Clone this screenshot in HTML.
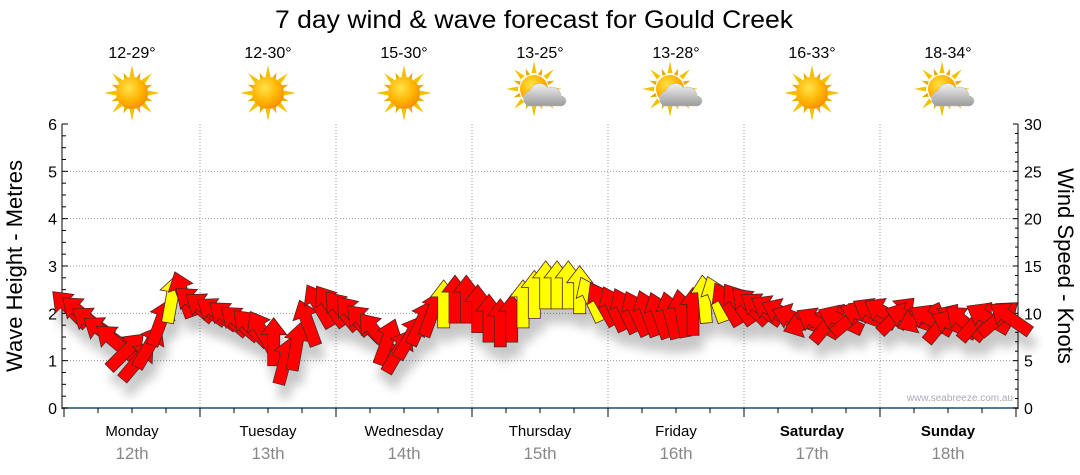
<!DOCTYPE html>
<html><head><meta charset="utf-8"><style>
body{margin:0;background:#fff}
svg{display:block;font-family:"Liberation Sans",sans-serif}
</style></head><body>
<svg id="chart" width="1080" height="475" viewBox="0 0 1080 475" xmlns="http://www.w3.org/2000/svg">
<defs>
<radialGradient id="sunG" cx="40%" cy="35%" r="70%"><stop offset="0" stop-color="#ffe24a"/><stop offset="0.6" stop-color="#ffb300"/><stop offset="1" stop-color="#f08a00"/></radialGradient>
<linearGradient id="cloudG" x1="0" y1="0" x2="0" y2="1"><stop offset="0" stop-color="#f2f2f2"/><stop offset="1" stop-color="#9a9a9a"/></linearGradient>
<filter id="shadow" x="-50%" y="-50%" width="200%" height="200%"><feGaussianBlur in="SourceAlpha" stdDeviation="5"/><feOffset dx="4" dy="14"/><feComponentTransfer><feFuncA type="linear" slope="0.22"/></feComponentTransfer><feMerge><feMergeNode/><feMergeNode in="SourceGraphic"/></feMerge></filter>
</defs>
<text x="534" y="28" text-anchor="middle" font-size="25" fill="#000" textLength="518" lengthAdjust="spacingAndGlyphs">7 day wind &amp; wave forecast for Gould Creek</text>
<g id="header"></g>
<g id="grid"></g>
<g id="axes"></g>
<g id="arrows" filter="url(#shadow)"></g>
<text transform="translate(22,266) rotate(-90)" text-anchor="middle" font-size="22" fill="#000">Wave Height - Metres</text>
<text transform="translate(1058,266) rotate(90)" text-anchor="middle" font-size="22" fill="#000">Wind Speed - Knots</text>
<text x="1013" y="401" text-anchor="end" font-size="10" fill="#aab">www.seabreeze.com.au</text>
</svg>
<script>
const days = ["Monday","Tuesday","Wednesday","Thursday","Friday","Saturday","Sunday"];
const dates = ["12th","13th","14th","15th","16th","17th","18th"];
const temps = ["12-29°","12-30°","15-30°","13-25°","13-28°","16-33°","18-34°"];
const cloudy = [0,0,0,1,1,0,1];
const boldDays = [0,0,0,0,0,1,1];
const waveTicks = [0,1,2,3,4,5,6];
const windTicks = [0,5,10,15,20,25,30];
// wind every 2 hours (hours 1,3,...,23 each day)
const windSpeed = [
10.5,10,9,8,7,6,5,6.5,9,11.5,12,11,
10.5,10,9.5,9,8.5,8,7,5,6.5,9,10.8,10.8,
10.3,9.8,9,8,7,6,7.5,9,10,11,11.5,11.5,
10.5,9.5,9,9.5,11,12,13,13,13,12.5,11.5,11,
10.5,10.3,10,10,9.8,9.8,10,10.2,11.5,11.5,11,11,
10.8,10.5,10.3,10,9.5,9,9,9,9.3,9.5,9.8,10,
10,9.8,9.6,9.5,9.3,9,8.8,9,9.2,9.5,9.5,9.5];
const windDir = [
-45,-50,-55,-55,-50,45,40,30,20,10,-20,-50,
-55,-55,-50,-50,-45,-30,0,15,10,-20,-30,-35,
-40,-40,-45,-40,20,30,30,25,20,0,0,0,
0,0,0,0,0,0,0,0,0,0,-25,-30,
-25,-25,-25,-20,-20,-15,-10,0,-5,-20,-30,-35,
-45,-55,-60,-65,-70,-110,-60,40,-65,50,-70,-60,
-60,45,-70,-115,-60,40,-65,-50,40,-60,50,-55];
const windYellow = [
0,0,0,0,0,0,0,0,0,1,0,0,
0,0,0,0,0,0,0,0,0,0,0,0,
0,0,0,0,0,0,0,0,0,1,0,0,
0,0,0,0,1,1,1,1,1,1,1,0,
0,0,0,0,0,0,0,0,1,1,0,0,
0,0,0,0,0,0,0,0,0,0,0,0,
0,0,0,0,0,0,0,0,0,0,0,0];

const NS="http://www.w3.org/2000/svg";
const X0=64, X1=1016, Y0=408, Y1=124;
const yWave=v=>Y0-(v/6)*(Y0-Y1);
const yWind=v=>Y0-(v/30)*(Y0-Y1);
const xHour=h=>X0+h/168*(X1-X0);
function mk(tag,attrs,parent,txt){const e=document.createElementNS(NS,tag);for(const k in attrs)e.setAttribute(k,attrs[k]);if(txt!==undefined)e.textContent=txt;parent.appendChild(e);return e;}
const header=document.getElementById('header'),grid=document.getElementById('grid'),axes=document.getElementById('axes'),arrows=document.getElementById('arrows');

waveTicks.forEach(v=>{if(v>0&&v<6){const l=mk('line',{x1:X0,x2:X1,y1:yWave(v),y2:yWave(v),stroke:'#999','stroke-dasharray':'1,2'},grid);

}});
for(let d=1;d<7;d++){const x=xHour(d*24);const l=mk('line',{x1:x,x2:x,y1:Y1,y2:Y0,stroke:'#999','stroke-dasharray':'1,2'},grid);

}

const la=mk('line',{x1:X0-2,x2:X0-2,y1:Y1,y2:Y0+1,stroke:'#000'},axes);


const ra=mk('line',{x1:X1+2,x2:X1+2,y1:Y1,y2:Y0+1,stroke:'#000'},axes);


const ba=mk('line',{x1:X0-2,x2:X1+2,y1:Y0,y2:Y0,stroke:'#1b4f72','stroke-width':1.5},axes);


for(let i=0;i<=24;i++){const y=yWave(i*0.25);mk('line',{x1:X0-2,x2:X0+(i%4?2:4),y1:y,y2:y,stroke:'#000'},axes);}
waveTicks.forEach(v=>{const t=mk('text',{x:X0-7,y:yWave(v)+6,'text-anchor':'end','font-size':16,fill:'#000'},axes,String(v));

});
for(let i=0;i<=30;i++){const y=yWind(i);mk('line',{x1:X1-(i%5?1:3),x2:X1+2,y1:y,y2:y,stroke:'#000'},axes);}
windTicks.forEach(v=>{const t=mk('text',{x:X1+8,y:yWind(v)+6,'font-size':16,fill:'#000'},axes,String(v));

});
for(let h=0;h<=168;h+=6){const x=xHour(h);mk('line',{x1:x,x2:x,y1:Y0,y2:Y0+(h%24?5:9),stroke:'#000'},axes);}

days.forEach((d,i)=>{const cx=xHour(i*24+12);
const t=mk('text',{x:cx,y:436,'text-anchor':'middle','font-size':15,fill:'#000','font-weight':boldDays[i]?'bold':'normal'},axes,d);


const dt=mk('text',{x:cx,y:459,'text-anchor':'middle','font-size':17,fill:'#888'},axes,dates[i]);


const tt=mk('text',{x:cx,y:58,'text-anchor':'middle','font-size':16,fill:'#000'},header,temps[i]);


const g=mk('g',{},header);


const sx=cloudy[i]?cx-6:cx, sy=cloudy[i]?89:93;
for(let a=0;a<360;a+=45){mk('polygon',{points:`${sx},${sy-28} ${sx+2.5},${sy-16} ${sx-2.5},${sy-16}`,fill:'#f2c200',transform:`rotate(${a} ${sx} ${sy})`},g);}
for(let a=22.5;a<360;a+=45){mk('polygon',{points:`${sx},${sy-22} ${sx+2},${sy-15} ${sx-2},${sy-15}`,fill:'#e8a800',transform:`rotate(${a} ${sx} ${sy})`},g);}
mk('circle',{cx:sx,cy:sy,r:cloudy[i]?14:16,fill:'url(#sunG)'},g);
if(cloudy[i]){mk('path',{d:`M${cx-12},${sy+17} a8,8 0 0 1 2,-15 a10,10 0 0 1 18,-3 a9,9 0 0 1 13,8 a5,5 0 0 1 0,10 z`,fill:'url(#cloudG)',stroke:'#bbb','stroke-width':0.5},g);}
});

const arrowPts="0,-24 13,-7 6,-7 6,24 -6,24 -6,-7 -13,-7";
windSpeed.forEach((v,i)=>{const x=xHour(i*2+1),y=yWind(v);
const p=mk('polygon',{points:arrowPts,fill:windYellow[i]?'#ffff00':'#ff0000',stroke:'#552222','stroke-width':0.8,transform:`translate(${x.toFixed(1)},${y.toFixed(1)}) rotate(${windDir[i]})`},arrows);

});
</script>
</body></html>
